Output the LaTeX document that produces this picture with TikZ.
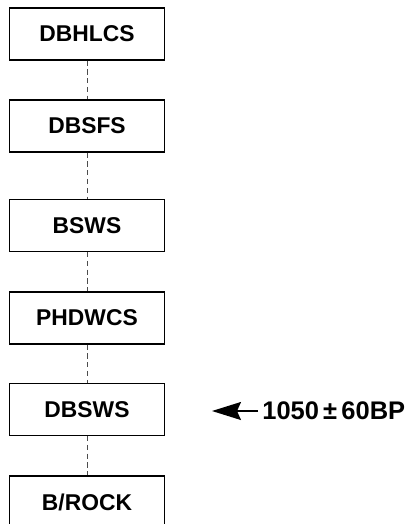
\documentclass[tikz,border=0pt]{standalone}
\usepackage{fontspec}
\setmainfont{Liberation Sans}
\usetikzlibrary{arrows.meta,positioning}

\begin{document}
\begin{tikzpicture}[x=0.02cm, y=-0.02cm,
    layerbox/.style={draw, line width=0.7pt, minimum width=3.1cm,
                minimum height=1.04cm, font=\fontsize{13}{15}\selectfont\bfseries},
    link/.style={densely dashed, line width=0.4pt, black!70},
    arr/.style={-{Stealth[length=0.58cm, width=0.36cm, inset=0.08cm]}, line width=0.9pt}
  ]
    \useasboundingbox (0,0) rectangle (406,524);
    \clip (0,0) rectangle (406,524);

    % Layer boxes
    \node[layerbox] (dbhlcs) at (87, 34)    {DBHLCS};
    \node[layerbox] (dbsfs)  at (87, 126)   {DBSFS};
    \node[layerbox] (bsws)   at (87, 225.5) {BSWS};
    \node[layerbox] (phdwcs) at (87, 318)   {PHDWCS};
    \node[layerbox] (dbsws)  at (87, 409.5) {DBSWS};
    \node[layerbox] (brock)  at (87, 502)   {B/ROCK};

    % Links between layers
    \draw[link] (dbhlcs) -- (dbsfs);
    \draw[link] (dbsfs)  -- (bsws);
    \draw[link] (bsws)   -- (phdwcs);
    \draw[link] (phdwcs) -- (dbsws);
    \draw[link] (dbsws)  -- (brock);

    % Date marker
    \node[anchor=west, inner sep=0pt, font=\fontsize{14.5}{16}\selectfont\bfseries] (age) at (262, 411)
      {1050\,±\,60BP};
    \coordinate (tip) at (212, 411);
    \draw[arr] (age.west) ++(-4,0) -- (tip);
  \end{tikzpicture}
\end{document}
